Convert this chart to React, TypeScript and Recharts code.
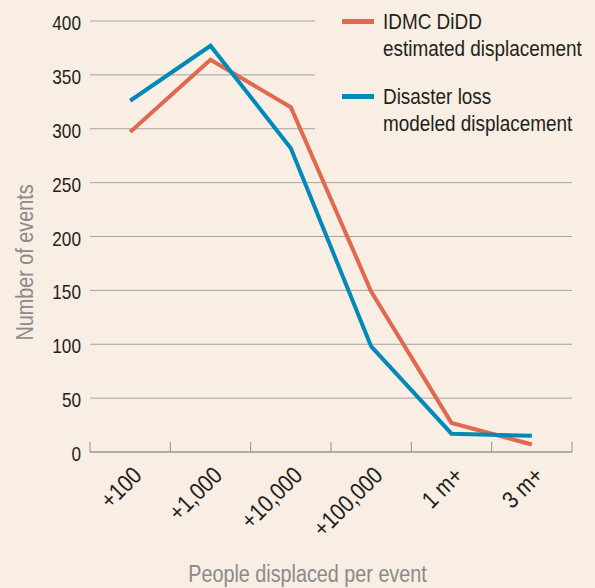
import React from "react";
import {
  LineChart,
  Line,
  XAxis,
  YAxis,
  CartesianGrid,
  Legend,
  Label,
} from "recharts";

const categories = ["+100", "+1,000", "+10,000", "+100,000", "1 m+", "3 m+"];
const idmcDidd = [297, 364, 320, 149, 27, 7];
const disasterLoss = [326, 377, 282, 98, 17, 15];
const yTicks = [0, 50, 100, 150, 200, 250, 300, 350, 400];

const BG = "#f8eee3";
const ORANGE = "#e0694f";
const BLUE = "#0089b9";
const INK = "#231f20";
const MUTED = "#8a8a8a";
const FONT = "'Liberation Sans', Arial, sans-serif";
// the original uses a condensed face; squeeze Liberation Sans horizontally
const SQUEEZE = 0.86;

const data = categories.map((name, i) => ({
  name,
  idmc: idmcDidd[i],
  loss: disasterLoss[i],
}));

const legendItems = [
  { color: ORANGE, lines: ["IDMC DiDD", "estimated displacement"] },
  { color: BLUE, lines: ["Disaster loss", "modeled displacement"] },
];

if (typeof document !== "undefined") {
  document.body.style.margin = "0";
  document.body.style.background = BG;
}

function XTick(props: any) {
  const { x, y, payload, index, visibleTicksCount } = props;
  const off = payload?.offset ?? 40;
  const isLast = index === visibleTicksCount - 1;
  return (
    <g>
      <line x1={x - off} x2={x - off} y1={y} y2={y - 10} stroke="#8f8f8f" strokeWidth={1} />
      {isLast && (
        <line x1={x + off} x2={x + off} y1={y} y2={y - 10} stroke="#8f8f8f" strokeWidth={1} />
      )}
      <g transform={`translate(${x + 13}, ${y + 25}) rotate(-45) scale(${SQUEEZE}, 1)`}>
        <text textAnchor="end" fontSize={24} fontFamily={FONT} fill={INK}>
          {payload.value}
        </text>
      </g>
    </g>
  );
}

function YTick(props: any) {
  const { x, y, payload } = props;
  return (
    <g transform={`translate(${x}, ${y + 9}) scale(${SQUEEZE}, 1)`}>
      <text textAnchor="end" fontSize={20} fontFamily={FONT} fill={INK}>
        {payload.value}
      </text>
    </g>
  );
}

function XTitle(props: any) {
  const vb = props.viewBox;
  const cx = vb.x + vb.width / 2 - 23.5;
  const by = vb.y + vb.height - 6;
  return (
    <g transform={`translate(${cx}, ${by}) scale(${SQUEEZE}, 1)`}>
      <text textAnchor="middle" fontSize={23} fontFamily={FONT} fill={MUTED}>
        {props.value}
      </text>
    </g>
  );
}

function YTitle(props: any) {
  const vb = props.viewBox;
  const cy = vb.y + vb.height / 2 + 26;
  return (
    <g transform={`translate(33, ${cy}) rotate(-90) scale(${SQUEEZE}, 1)`}>
      <text textAnchor="middle" fontSize={23} fontFamily={FONT} fill={MUTED}>
        {props.value}
      </text>
    </g>
  );
}

function LegendBox() {
  return (
    <div style={{ background: BG, width: 280, height: 140, fontFamily: FONT, color: INK }}>
      {legendItems.map((item, i) => {
        const pad = i === 0 ? 9 : 21.6;
        return (
          <div key={i} style={{ position: "relative", paddingLeft: 68, paddingTop: pad }}>
            <div
              style={{
                position: "absolute",
                left: 27,
                top: pad + 10.3,
                width: 32,
                height: 5,
                background: item.color,
              }}
            />
            {item.lines.map((t, j) => (
              <div
                key={j}
                style={{
                  fontSize: 22,
                  lineHeight: "26.7px",
                  whiteSpace: "nowrap",
                  transform: `scaleX(${SQUEEZE})`,
                  transformOrigin: "left center",
                }}
              >
                {t}
              </div>
            ))}
          </div>
        );
      })}
    </div>
  );
}

export default function App() {
  return (
    <div style={{ width: 595, height: 588, background: BG }}>
      <LineChart
        width={595}
        height={588}
        data={data}
        margin={{ top: 21, right: 23, bottom: 0, left: 0 }}
      >
        <CartesianGrid vertical={false} stroke="#a3a3a3" strokeWidth={1} />
        <XAxis
          dataKey="name"
          scale="band"
          height={136}
          interval={0}
          tickLine={false}
          tickSize={0}
          tickMargin={0}
          axisLine={{ stroke: "#8f8f8f", strokeWidth: 1 }}
          tick={<XTick />}
        >
          <Label value="People displaced per event" content={<XTitle />} />
        </XAxis>
        <YAxis
          width={90}
          domain={[0, 400]}
          ticks={yTicks}
          axisLine={false}
          tickLine={false}
          tickSize={0}
          tickMargin={9}
          tick={<YTick />}
        >
          <Label value="Number of events" content={<YTitle />} />
        </YAxis>
        <Legend
          layout="vertical"
          align="center"
          verticalAlign="middle"
          content={<LegendBox />}
          wrapperStyle={{ top: 0, left: 315, width: 280, height: 140 }}
        />
        <Line
          dataKey="idmc"
          stroke={ORANGE}
          strokeWidth={4}
          dot={false}
          activeDot={false}
          strokeLinejoin="miter"
          isAnimationActive={false}
        />
        <Line
          dataKey="loss"
          stroke={BLUE}
          strokeWidth={4}
          dot={false}
          activeDot={false}
          strokeLinejoin="miter"
          isAnimationActive={false}
        />
      </LineChart>
    </div>
  );
}
